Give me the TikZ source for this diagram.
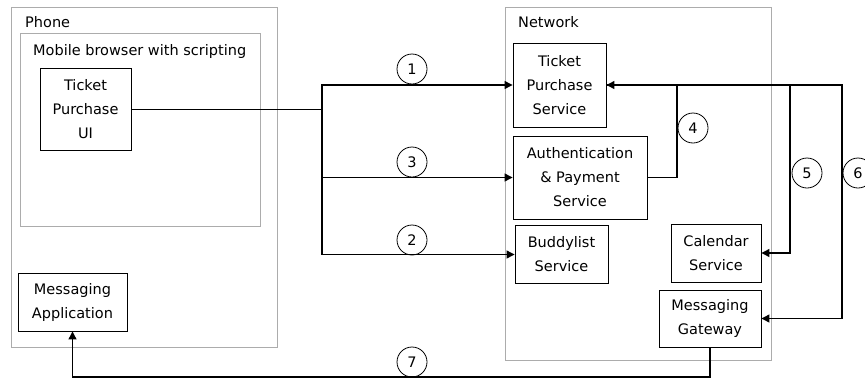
\documentclass[tikz,border=0pt]{standalone}
\usepackage{fontspec}
\setmainfont{DejaVu Sans}
\usetikzlibrary{arrows.meta}

\begin{document}
\begin{tikzpicture}[x=1pt, y=-1pt,
  font=\fontsize{14.5}{24}\selectfont,
  grp/.style={draw=gray!65, line width=0.9pt, inner sep=0pt},
  box/.style={draw, line width=0.9pt, align=center, inner sep=0pt},
  lbl/.style={anchor=west, inner sep=0pt},
  num/.style={draw, circle, minimum size=30pt, inner sep=0pt, line width=0.8pt},
  arr/.style={line width=1.2pt, -{Triangle[length=8pt, width=8pt]}}]
\useasboundingbox (0,0) rectangle (865,378);
\path (144,177) node[grp, minimum width=266pt, minimum height=340pt] (phone) {};
\path (140,129.5) node[grp, minimum width=240pt, minimum height=193pt] (browser) {};
\path (638,183.5) node[grp, minimum width=266pt, minimum height=353pt] (network) {};
\path (25,22) node[lbl] (phonelbl) {Phone};
\path (33,51) node[lbl] (browserlbl) {Mobile browser with scripting};
\path (518,22) node[lbl] (networklbl) {Network};
\path (85.5,109.5) node[box, minimum width=91pt, minimum height=82pt] (ui) {Ticket\\Purchase\\UI};
\path (72.5,302) node[box, minimum width=109pt, minimum height=58pt] (msgapp) {Messaging\\Application};
\path (559.5,85) node[box, minimum width=93pt, minimum height=84pt] (tps) {Ticket\\Purchase\\Service};
\path (580,177.5) node[box, minimum width=134pt, minimum height=83pt] (auth) {Authentication\\\& Payment\\Service};
\path (561.5,254.5) node[box, minimum width=93pt, minimum height=58pt] (buddy) {Buddylist\\Service};
\path (716,253) node[box, minimum width=90pt, minimum height=58pt] (cal) {Calendar\\Service};
\path (710,318.5) node[box, minimum width=102pt, minimum height=57pt] (gw) {Messaging\\Gateway};
\coordinate (split) at (322,109.5);
\coordinate (c4) at (677,85);
\coordinate (c5) at (790,85);
\coordinate (c6) at (842,85);
\coordinate (c7) at (72.5,377);
\draw[arr] (ui.east) -- (split) |- (tps.west);
\draw[arr] (split) |- (auth.west);
\draw[arr] (split) |- (buddy.west);
\draw[arr] (auth.east) -| (c4) -- (tps.east);
\draw[arr] (tps.east) -- (c5) |- (cal.east);
\draw[arr] (tps.east) -- (c6) |- (gw.east);
\draw[arr] (gw.south) |- (c7) -- (msgapp.south);
\path (412,69) node[num] (n1) {1};
\path (412,240) node[num] (n2) {2};
\path (412,162) node[num] (n3) {3};
\path (693,128) node[num] (n4) {4};
\path (807,173) node[num] (n5) {5};
\path (858,173) node[num] (n6) {6};
\path (412,362) node[num] (n7) {7};
\end{tikzpicture}
\end{document}
